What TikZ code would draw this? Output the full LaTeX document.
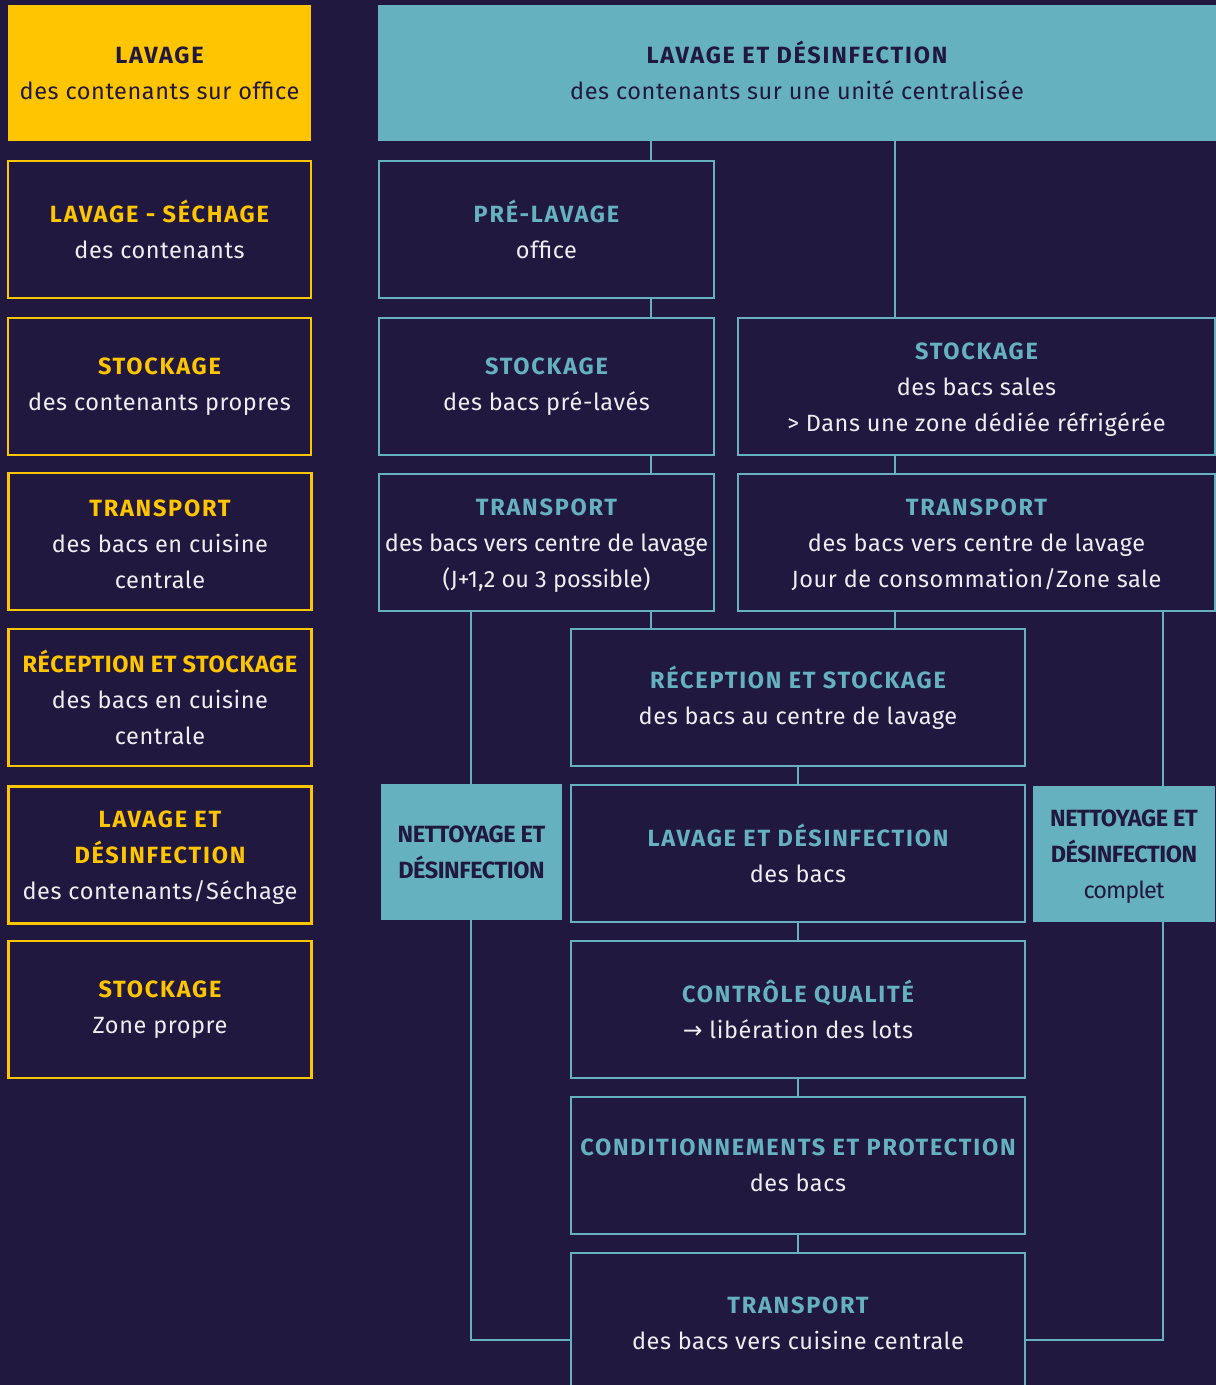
\documentclass[tikz,border=0pt]{standalone}
\usepackage{fontspec}
\setmainfont{Fira Sans}[LetterSpace=2.5]
\newfontfamily\titlef{Fira Sans}[LetterSpace=7.5]
\newfontfamily\tightf{Fira Sans}[LetterSpace=0]
\newfontfamily\condf{Fira Sans}[LetterSpace=-2]
\newfontfamily\condsf{Fira Sans}[LetterSpace=-4]
\newfontfamily\arrowf{DejaVu Sans}
\definecolor{bg}{HTML}{21183F}
\definecolor{yel}{HTML}{FFC600}
\definecolor{tealc}{HTML}{66B1BF}
\definecolor{wht}{HTML}{EEEEF2}
\tikzset{
  basebox/.style={inner sep=0pt, align=center, text=wht, font=\fontsize{23.5}{36}\selectfont},
  ybox/.style={basebox, draw=yel, line width=2.8pt, minimum width=303pt, minimum height=137pt},
  tbox/.style={basebox, draw=tealc, line width=2.8pt, minimum height=137pt},
  yfill/.style={basebox, fill=yel, text=bg, minimum width=303pt, minimum height=136pt},
  tfill/.style={basebox, fill=tealc, text=bg, minimum height=136pt},
  link/.style={draw=tealc, line width=2.6pt},
}
\newcommand\yt[1]{{\titlef\bfseries\color{yel}#1}}
\newcommand\tq[1]{{\titlef\bfseries\color{tealc}#1}}
\newcommand\dt[1]{{\titlef\bfseries\color{bg}#1}}
\newcommand\up{\rule{0pt}{22pt}}
\newcommand\dn{\rule[-5pt]{0pt}{5pt}}
\begin{document}
\begin{tikzpicture}[x=1pt,y=-1pt]
\useasboundingbox (0,0) rectangle (1216,1385);
\fill[bg] (0,0) rectangle (1216,1385);
\clip (0,0) rectangle (1216,1385);
% left column
\node[yfill] (lh) at (159.5,73) {\dt{LAVAGE}\\des contenants sur office};
\node[ybox] (l1) at (159.5,229.5) {\yt{LAVAGE - SÉCHAGE}\\des contenants};
\node[ybox] (l2) at (159.5,386.5) {\yt{STOCKAGE}\\des contenants propres};
\node[ybox] (l3) at (160,541.5) {\up\yt{TRANSPORT}\\des bacs en cuisine\\centrale};
\node[ybox] (l4) at (160,697.5) {{\bfseries\color{yel}RÉCEPTION ET STOCKAGE}\\des bacs en cuisine\\centrale};
\node[ybox] (l5) at (160,855) {\up\yt{LAVAGE ET}\\\yt{DÉSINFECTION}\\des contenants/Séchage};
\node[ybox] (l6) at (160,1009.5) {\yt{STOCKAGE}\\Zone propre};
% right part
\node[tfill, minimum width=838pt] (hdr) at (797,73) {\dt{LAVAGE ET DÉSINFECTION}\\des contenants sur une unité centralisée\dn};
\node[tbox, minimum width=335pt] (pre) at (546.5,229.5) {\tq{PRÉ-LAVAGE}\\office};
\node[tbox, minimum width=335pt] (spl) at (546.5,386.5) {\tq{STOCKAGE}\\des bacs pré-lavés};
\node[tbox, minimum width=335pt] (tra) at (546.5,542.5) {\up\tq{TRANSPORT}\\{\tightf des bacs vers centre de lavage}\\{\tightf (J+1,2 ou 3 possible)}};
\node[tbox, minimum width=477pt] (ssa) at (976.5,386.5) {\up\tq{STOCKAGE}\\des bacs sales\\> Dans une zone dédiée réfrigérée};
\node[tbox, minimum width=477pt] (trb) at (976.5,542.5) {\up\tq{TRANSPORT}\\des bacs vers centre de lavage\\Jour de consommation/Zone sale};
\node[tbox, minimum width=454pt] (rec) at (798,697.5) {\tq{RÉCEPTION ET STOCKAGE}\\des bacs au centre de lavage};
\node[tbox, minimum width=454pt] (lav) at (798,853.5) {\tq{LAVAGE ET DÉSINFECTION}\\des bacs};
\node[tbox, minimum width=454pt] (cq) at (798,1009.5) {\tq{CONTRÔLE QUALITÉ}\\{\arrowf →} libération des lots};
\node[tbox, minimum width=454pt] (cond) at (798,1165.5) {\tq{CONDITIONNEMENTS ET PROTECTION}\\des bacs};
\node[tbox, minimum width=454pt, minimum height=140pt] (tc) at (798,1323) {\tq{TRANSPORT}\\des bacs vers cuisine centrale};
\node[tfill, minimum width=181pt] (nl) at (471.5,852) {{\condf\bfseries NETTOYAGE ET}\\{\condf\bfseries DÉSINFECTION}};
\node[tfill, minimum width=182pt] (nr) at (1124,854) {\up{\condf\bfseries NETTOYAGE ET}\\{\condf\bfseries DÉSINFECTION}\\{\condsf complet}};
% connectors
\coordinate (xa) at (651,0);
\coordinate (xb) at (895,0);
\coordinate (xl) at (471,0);
\coordinate (xr) at (1163,0);
\coordinate (yb) at (0,1340);
\draw[link] (hdr.south -| xa) -- (pre.north -| xa);
\draw[link] (hdr.south -| xb) -- (ssa.north -| xb);
\draw[link] (pre.south -| xa) -- (spl.north -| xa);
\draw[link] (spl.south -| xa) -- (tra.north -| xa);
\draw[link] (ssa.south -| xb) -- (trb.north -| xb);
\draw[link] (tra.south -| xa) -- (rec.north -| xa);
\draw[link] (trb.south -| xb) -- (rec.north -| xb);
\draw[link] (tra.south -| xl) -- (nl.north -| xl);
\draw[link] (trb.south -| xr) -- (nr.north -| xr);
\draw[link] (nl.south -| xl) |- (tc.west |- yb);
\draw[link] (nr.south -| xr) |- (tc.east |- yb);
\draw[link] (rec) -- (lav);
\draw[link] (lav.south) -- (cq.north);
\draw[link] (cq.south) -- (cond.north);
\draw[link] (cond.south) -- (tc.north);
\end{tikzpicture}
\end{document}
